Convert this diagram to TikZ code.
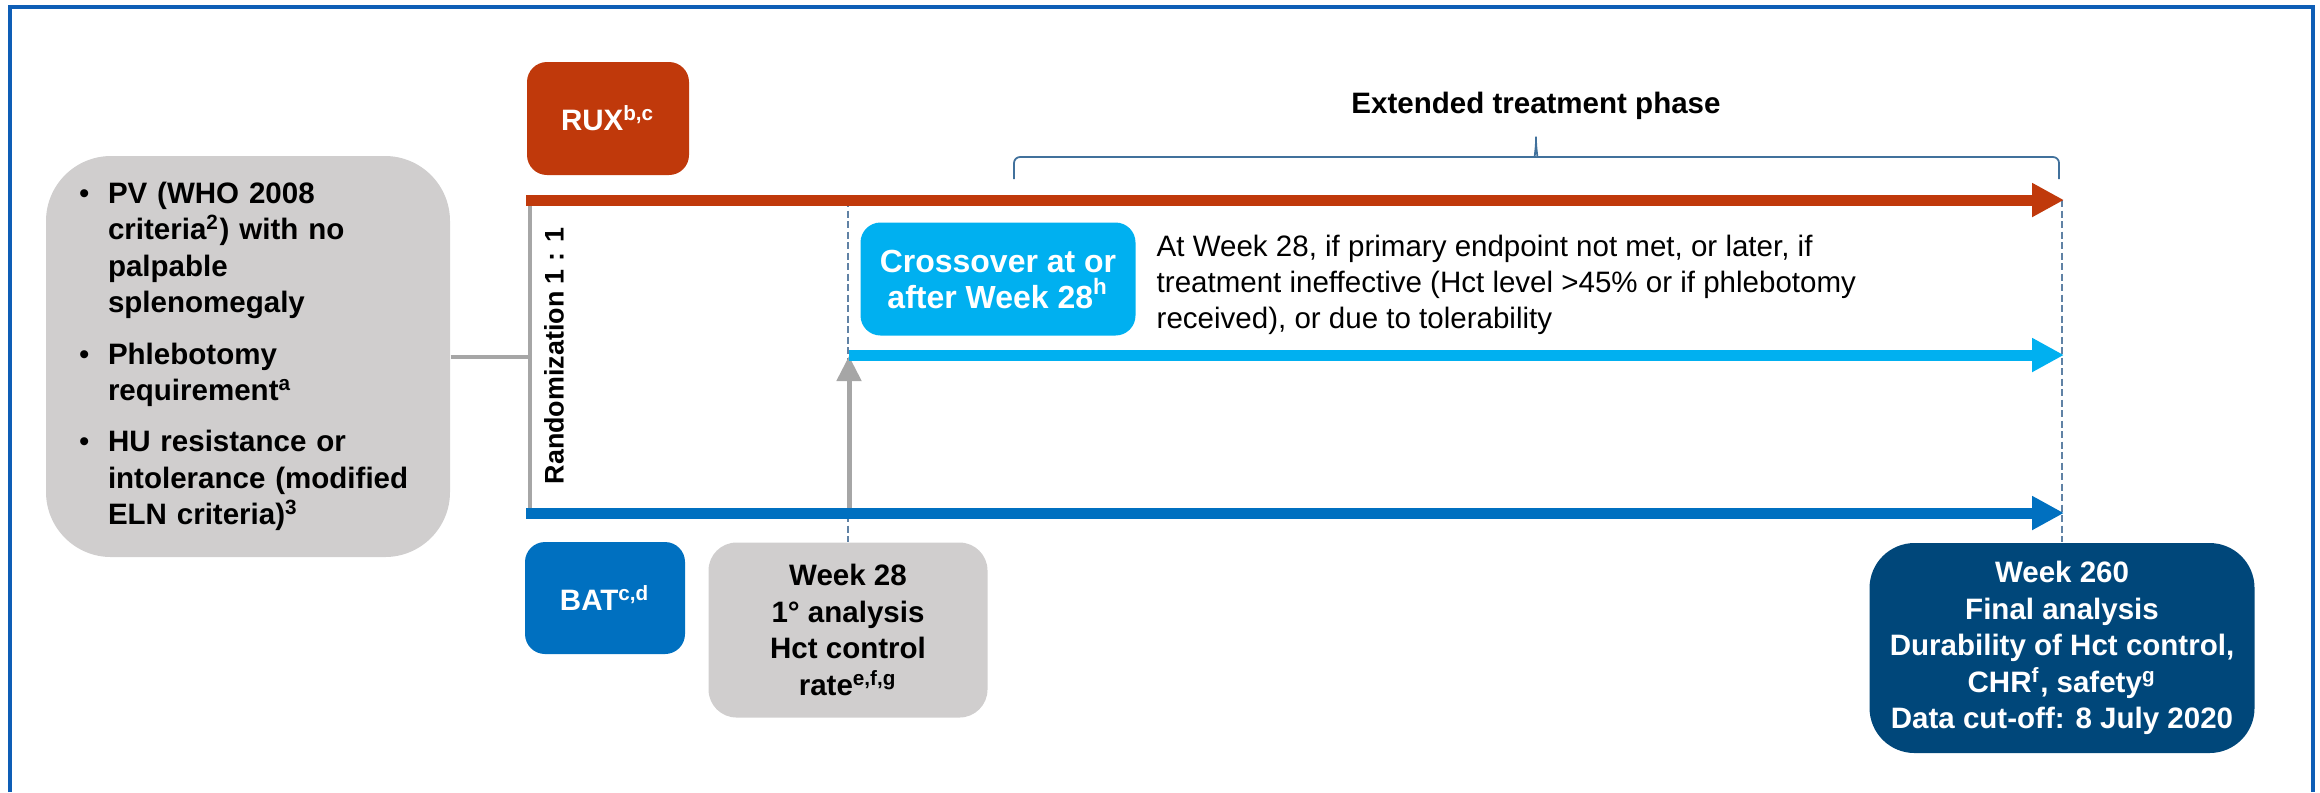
\documentclass[tikz,border=0pt]{standalone}
\usepackage{fontspec}
\setmainfont{Liberation Sans}
\usetikzlibrary{arrows.meta}

\definecolor{ruxred}{RGB}{192,57,11}
\definecolor{batblue}{RGB}{0,112,192}
\definecolor{xoverblue}{RGB}{0,176,240}
\definecolor{navyblue}{RGB}{0,71,122}
\definecolor{boxgray}{RGB}{208,206,206}
\definecolor{linegray}{RGB}{166,166,166}
\definecolor{dashblue}{RGB}{96,130,165}
\definecolor{braceblue}{RGB}{65,113,156}
\definecolor{frameblue}{RGB}{14,94,182}

\newcommand{\bodyfont}{\fontsize{8.4}{10.36}\selectfont}
\newcommand{\xoverfont}{\fontsize{9.1}{10.25}\selectfont}
\newcommand{\randfont}{\fontsize{7.65}{9}\selectfont}
\newcommand{\critem}{\makebox[0.29cm][l]{\mdseries\textbullet}}
\newcommand{\critgap}{\hspace*{0.29cm}}

\begin{document}
\begin{tikzpicture}[x=0.1mm,y=0.1mm,
  armbox/.style={rounded corners=0.2cm, text=white, font=\bodyfont\bfseries, align=center},
  graybox/.style={fill=boxgray, font=\bodyfont\bfseries},
  grayline/.style={linegray, line width=0.04cm},
  dashline/.style={dashblue, line width=0.5pt, dash pattern=on 0.07cm off 0.035cm},
  arm/.style={line width=0.11cm, -{Triangle[length=0.32cm,width=0.32cm]}},
  uparrow/.style={linegray, line width=0.05cm, -{Triangle[length=0.25cm,width=0.24cm]}}]
\tikzstyle{every node}+=[inner sep=0pt]
\useasboundingbox (0,0) rectangle (2320,-792);
\draw[frameblue, line width=0.04cm] (10,-792) -- (10,-7) -- (2313,-7) -- (2313,-792);

\node[graybox, rounded corners=0.65cm, minimum width=4.04cm, minimum height=4.01cm,
  text width=3.38cm, align=left] (crit) at (248,-356.5) {%
\critem PV (WHO 2008\\
\critgap criteria\textsuperscript{2}) with no\\
\critgap palpable\\
\critgap splenomegaly\\[0.15cm]
\critem Phlebotomy\\
\critgap requirement\textsuperscript{a}\\[0.15cm]
\critem HU resistance or\\
\critgap intolerance (modified\\
\critgap ELN criteria)\textsuperscript{3}};

\node[armbox, fill=ruxred, minimum width=1.62cm, minimum height=1.13cm] (rux) at (608,-118.5) {RUX\textsuperscript{b,c}};
\node[armbox, fill=batblue, minimum width=1.60cm, minimum height=1.12cm] (bat) at (605,-598) {BAT\textsuperscript{c,d}};
\node[graybox, rounded corners=0.28cm, minimum width=2.79cm, minimum height=1.75cm, align=center] (wk28) at (848,-630)
  {Week 28\\1° analysis\\Hct control\\rate\textsuperscript{e,f,g}};
\node[armbox, fill=xoverblue, font=\xoverfont\bfseries, minimum width=2.75cm, minimum height=1.13cm] (xover) at (998,-279)
  {Crossover at or\\after Week 28\textsuperscript{h}};
\node[anchor=north west, align=left, font=\bodyfont] (xtext) at (1156,-234)
  {At Week 28, if primary endpoint not met, or later, if\\
   treatment ineffective (Hct level >45\% or if phlebotomy\\
   received), or due to tolerability};
\node[armbox, fill=navyblue, rounded corners=0.45cm, minimum width=3.85cm, minimum height=2.10cm] (wk260) at (2062,-648)
  {Week 260\\Final analysis\\Durability of Hct control,\\CHR\textsuperscript{f}, safety\textsuperscript{g}\\Data cut-off: 8 July 2020};
\node[font=\bodyfont\bfseries] (ext) at (1536,-106) {Extended treatment phase};
\node[rotate=90, font=\randfont\bfseries] (rand) at (554,-356) {Randomization 1 : 1};

\coordinate (rtop) at (530,-200);
\coordinate (rbot) at (530,-513);
\coordinate (ruxstart) at (526,-200);
\coordinate (batstart) at (526,-513);
\coordinate (ruxend) at (2064,-200);
\coordinate (batend) at (2064,-513);
\coordinate (xstart) at (849,-355);
\coordinate (xend) at (2064,-355);

\draw[grayline] (crit.east) -- (crit.east -| rtop);
\draw[grayline] (rtop) -- (rbot);
\draw[dashline] (wk28.north |- rtop) -- (wk28.north);
\draw[dashline] (wk260.north |- ruxend) -- (wk260.north);
\draw[uparrow] ([yshift=-0.05cm]xstart |- rbot) -- ([yshift=-0.01cm]xstart);
\draw[arm, ruxred] (ruxstart) -- (ruxend);
\draw[arm, xoverblue] (xstart) -- (xend);
\draw[arm, batblue] (batstart) -- (batend);

\draw[braceblue, line width=0.5pt, rounded corners=0.06cm] (1014,-179) -- (1014,-157) -- (1529,-157)
  .. controls (1534,-157) and (1536,-150) .. (1536,-133)
  .. controls (1536,-150) and (1538,-157) .. (1543,-157) -- (2059,-157) -- (2059,-179);
\end{tikzpicture}
\end{document}
